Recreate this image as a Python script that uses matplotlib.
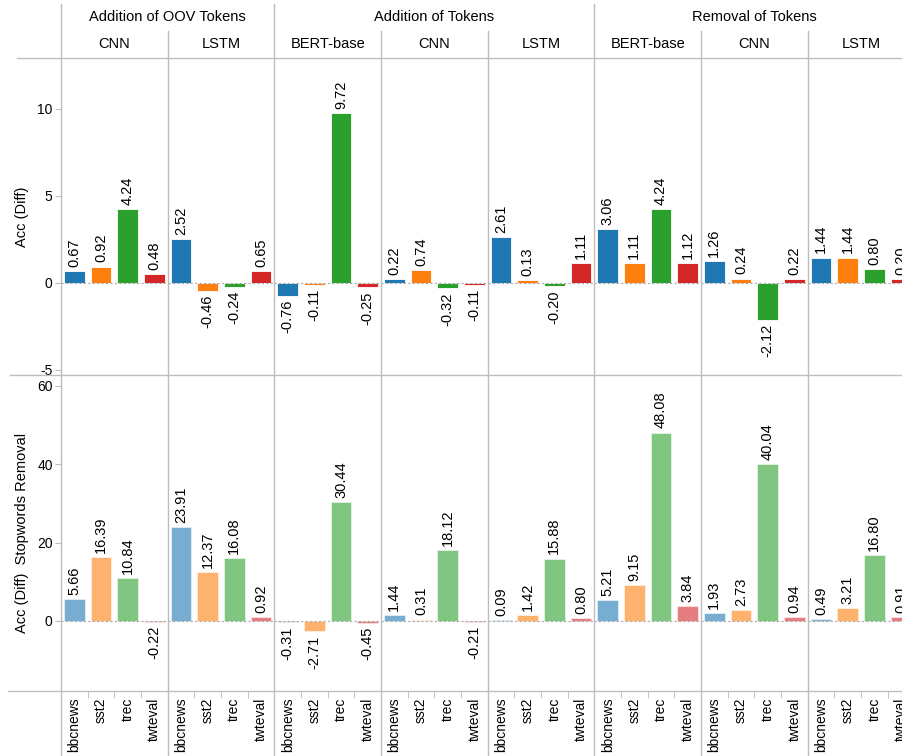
import numpy as np
import matplotlib.pyplot as plt
from matplotlib.lines import Line2D

plt.rcParams['font.family'] = ['Liberation Sans', 'DejaVu Sans']
plt.rcParams['font.size'] = 10
plt.rcParams['axes.unicode_minus'] = False

# facetas
grupos = ["Addition of OOV Tokens", "Addition of Tokens", "Removal of Tokens"]
modelos = [["CNN", "LSTM"], ["BERT-base", "CNN", "LSTM"], ["BERT-base", "CNN", "LSTM"]]
datasets = ["bbcnews", "sst2", "trec", "twteval"]
cores = ["#1f77b4", "#ff7f0e", "#2ca02c", "#d62728"]

# Acc (Diff) - linha de cima
acc_diff = [
    [0.67, 0.92, 4.24, 0.48],
    [2.52, -0.46, -0.24, 0.65],
    [-0.76, -0.11, 9.72, -0.25],
    [0.22, 0.74, -0.32, -0.11],
    [2.61, 0.13, -0.20, 1.11],
    [3.06, 1.11, 4.24, 1.12],
    [1.26, 0.24, -2.12, 0.22],
    [1.44, 1.44, 0.80, 0.20],
]
# Acc (Diff) Stopwords Removal - linha de baixo
acc_stop = [
    [5.66, 16.39, 10.84, -0.22],
    [23.91, 12.37, 16.08, 0.92],
    [-0.31, -2.71, 30.44, -0.45],
    [1.44, 0.31, 18.12, -0.21],
    [0.09, 1.42, 15.88, 0.80],
    [5.21, 9.15, 48.08, 3.84],
    [1.93, 2.73, 40.04, 0.94],
    [0.49, 3.21, 16.80, 0.91],
]

W, H = 902, 756
fig = plt.figure(figsize=(W / 100, H / 100), dpi=100)

x_esq = 61.0
larg = 106.67
y_topo, y_meio, y_base = 58.0, 375.0, 690.5
cinza = "#bdbdbd"


def fx(px):
    return px / W


def fy(py):
    return 1 - py / H


linhas = [
    (acc_diff, (y_topo, y_meio), (-5.3, 12.9), [-5, 0, 5, 10], 1.0),
    (acc_stop, (y_meio, y_base), (-17.8, 62.8), [0, 20, 40, 60], 0.6),
]

for r, (dados, (ya, yb), ylim, yticks, alfa) in enumerate(linhas):
    for i, valores in enumerate(dados):
        x0 = x_esq + i * larg
        ax = fig.add_axes([fx(x0), fy(yb), larg / W, (yb - ya) / H])
        pos = np.arange(len(datasets))
        ax.bar(pos, valores, width=0.78, color=cores, alpha=alfa,
               edgecolor="white", linewidth=0.6)
        ax.axhline(0, color="#aaaaaa", lw=0.8, ls=(0, (2, 2)), zorder=3)
        for p, v in zip(pos, valores):
            if v >= 0:
                ax.annotate(f"{v:.2f}", (p, v), xytext=(0, 3), textcoords="offset points",
                            rotation=90, ha="center", va="bottom", fontsize=10.5)
            else:
                ax.annotate(f"{v:.2f}", (p, v), xytext=(0, -3), textcoords="offset points",
                            rotation=90, ha="center", va="top", fontsize=10.5)
        ax.set_xlim(-0.5, 3.5)
        ax.set_ylim(*ylim)
        for s in ax.spines.values():
            s.set_visible(False)
        ax.patch.set_alpha(0)
        if i == 0:
            ax.set_yticks(yticks)
            ax.tick_params(axis="y", length=4, color=cinza, pad=2, labelsize=10)
        else:
            ax.set_yticks([])
        if r == 1:
            ax.set_xticks(pos)
            ax.set_xticklabels(datasets, rotation=90, fontsize=10)
            ax.set_xticks([0.5, 1.5, 2.5], minor=True)
            ax.tick_params(axis="x", which="major", length=0, pad=5)
            ax.tick_params(axis="x", which="minor", length=5, color=cinza)
        else:
            ax.set_xticks([])

# titulos dos eixos y
fig.text(fx(22), fy((y_topo + y_meio) / 2), "Acc (Diff)", rotation=90,
         ha="center", va="center", fontsize=10.5)
fig.text(fx(22), fy((y_meio + y_base) / 2), "Acc (Diff)  Stopwords Removal", rotation=90,
         ha="center", va="center", fontsize=10.5)

# linhas de grade da faceta
fig.add_artist(Line2D([fx(17), 1], [fy(y_topo), fy(y_topo)], color=cinza, lw=1))
fig.add_artist(Line2D([fx(10), 1], [fy(y_meio), fy(y_meio)], color=cinza, lw=1))
fig.add_artist(Line2D([fx(8), 1], [fy(y_base), fy(y_base)], color=cinza, lw=1))

col = 0
for g, mods in zip(grupos, modelos):
    xg = x_esq + col * larg
    fig.add_artist(Line2D([fx(xg), fx(xg)], [fy(4), 0], color=cinza, lw=1))
    fig.text(fx(xg + len(mods) * larg / 2), fy(17), g, ha="center", va="center", fontsize=10.5)
    for k, m in enumerate(mods):
        xm = x_esq + (col + k) * larg
        if k > 0:
            fig.add_artist(Line2D([fx(xm), fx(xm)], [fy(31), 0], color=cinza, lw=1))
        fig.text(fx(xm + larg / 2), fy(44), m, ha="center", va="center", fontsize=10.5)
    col += len(mods)

fig.savefig("out.png", dpi=100)
